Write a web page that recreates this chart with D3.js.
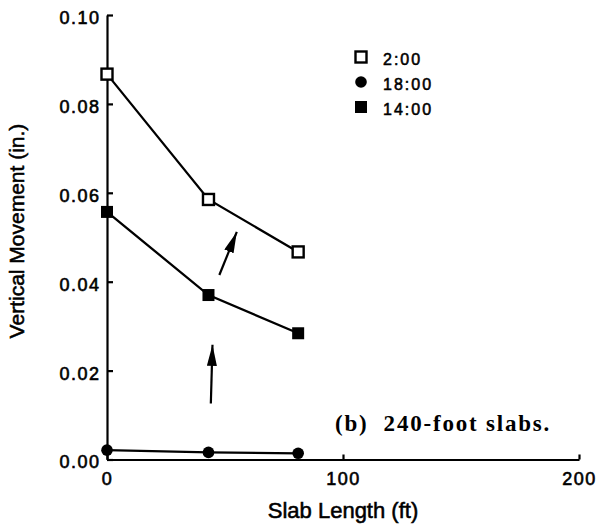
<!DOCTYPE html>
<html>
<head>
<meta charset="utf-8">
<script src="https://cdn.jsdelivr.net/npm/d3@7"></script>
<style>
  html, body { margin: 0; padding: 0; background: #fff; }
  svg { display: block; }
  .tick text { font-family: "Liberation Sans", Arial, sans-serif; }
</style>
</head>
<body>
<svg id="chart" width="600" height="529"></svg>
<script>
// Slab length (ft) at which each movement was measured
const slabLength = [0, 43, 81];
// Vertical movement (in.) for each time of day
const move0200 = [0.0867, 0.0585, 0.0467];
const move1800 = [0.0021, 0.0016, 0.0014];
const move1400 = [0.0557, 0.0370, 0.0284];

const seriesNames = ["2:00", "18:00", "14:00"];
const seriesValues = [move0200, move1800, move1400];
const seriesMarkers = ["openSquare", "circle", "filledSquare"];

const xTicks = [0, 100, 200];
const yTicks = [0, 0.02, 0.04, 0.06, 0.08, 0.10];

// Arrows showing the shift of the curve: [x0, y0, x1, y1] in data units
const arrows = [
  [44, 0.0126, 44.7, 0.0258],
  [47.6, 0.0415, 55, 0.0512]
];
const noteText = "(b)  240-foot slabs.";
const notePos = [96.6, 0.0065];

const svg = d3.select("#chart");
const x = d3.scaleLinear().domain([0, 200]).range([107, 579]);
const y = d3.scaleLinear().domain([0, 0.10]).range([459.5, 15]);

// Axes
const xAxis = d3.axisBottom(x).tickValues(xTicks).tickFormat(d3.format("d"))
  .tickSizeInner(-5).tickSizeOuter(0).tickPadding(12.5);
const yAxis = d3.axisLeft(y).tickValues(yTicks).tickFormat(d3.format(".2f"))
  .tickSizeInner(-6).tickSizeOuter(0).tickPadding(6.5);

const gx = svg.append("g").attr("transform", `translate(0,${y(0)})`).call(xAxis);
const gy = svg.append("g").attr("transform", `translate(${x(0)},0)`).call(yAxis);
[gx, gy].forEach(g => {
  g.selectAll("path.domain, line").attr("stroke", "#000").attr("stroke-width", 2.2);
  g.selectAll("text").attr("fill", "#000").attr("font-size", 18)
    .attr("letter-spacing", 1.5).attr("stroke", "#000").attr("stroke-width", 0.6);
});
gy.selectAll("text").attr("dy", "0.47em");

// Axis titles
const titleStyle = sel => sel.attr("font-family", "'Liberation Sans', Arial, sans-serif")
  .attr("fill", "#000").attr("stroke", "#000").attr("stroke-width", 0.55);
svg.append("text").call(titleStyle)
  .attr("x", x(100)).attr("y", 518).attr("text-anchor", "middle")
  .attr("font-size", 22).text("Slab Length (ft)");
svg.append("text").call(titleStyle)
  .attr("transform", `translate(24,231) rotate(-90)`).attr("text-anchor", "middle")
  .attr("font-size", 21).text("Vertical Movement (in.)");

// Lines
const line = d3.line().x((d, i) => x(slabLength[i])).y(d => y(d));
seriesValues.forEach(vals => {
  svg.append("path").datum(vals).attr("d", line)
    .attr("fill", "none").attr("stroke", "#000").attr("stroke-width", 2.3);
});

// Markers
function drawMarker(g, type, cx, cy) {
  if (type === "openSquare") {
    g.append("rect").attr("x", cx - 5.5).attr("y", cy - 5.5).attr("width", 11).attr("height", 11)
      .attr("fill", "#fff").attr("stroke", "#000").attr("stroke-width", 2.4);
  } else if (type === "filledSquare") {
    g.append("rect").attr("x", cx - 6).attr("y", cy - 6).attr("width", 12).attr("height", 12)
      .attr("fill", "#000");
  } else {
    g.append("circle").attr("cx", cx).attr("cy", cy).attr("r", 5.8).attr("fill", "#000");
  }
}
const markers = svg.append("g");
seriesValues.forEach((vals, s) => {
  vals.forEach((v, i) => drawMarker(markers, seriesMarkers[s], x(slabLength[i]), y(v)));
});

// Legend
const legend = svg.append("g");
seriesNames.forEach((name, i) => {
  const ly = 57 + i * 25;
  drawMarker(legend, seriesMarkers[i], 361, ly);
  legend.append("text").attr("x", 383).attr("y", ly + 7.5)
    .attr("font-family", "'Liberation Sans', Arial, sans-serif").attr("font-size", 16)
    .attr("letter-spacing", 2).attr("fill", "#000").attr("stroke", "#000").attr("stroke-width", 0.55)
    .text(name);
});

// Arrows
svg.append("defs").append("marker").attr("id", "head")
  .attr("viewBox", "0 0 21 10").attr("refX", 21).attr("refY", 5)
  .attr("markerWidth", 21).attr("markerHeight", 10).attr("markerUnits", "userSpaceOnUse")
  .attr("orient", "auto")
  .append("path").attr("d", "M0,0 L21,5 L0,10 Z").attr("fill", "#000");
arrows.forEach(a => {
  svg.append("line").attr("x1", x(a[0])).attr("y1", y(a[1]))
    .attr("x2", x(a[2])).attr("y2", y(a[3]))
    .attr("stroke", "#000").attr("stroke-width", 2.2).attr("marker-end", "url(#head)");
});

// Panel note
svg.append("text").attr("x", x(notePos[0])).attr("y", y(notePos[1]))
  .attr("font-family", "'Liberation Serif', 'Times New Roman', serif").attr("font-weight", "bold")
  .attr("font-size", 23).attr("letter-spacing", 1.8).attr("xml:space", "preserve")
  .style("white-space", "pre").attr("fill", "#000").text(noteText);
</script>
</body>
</html>
